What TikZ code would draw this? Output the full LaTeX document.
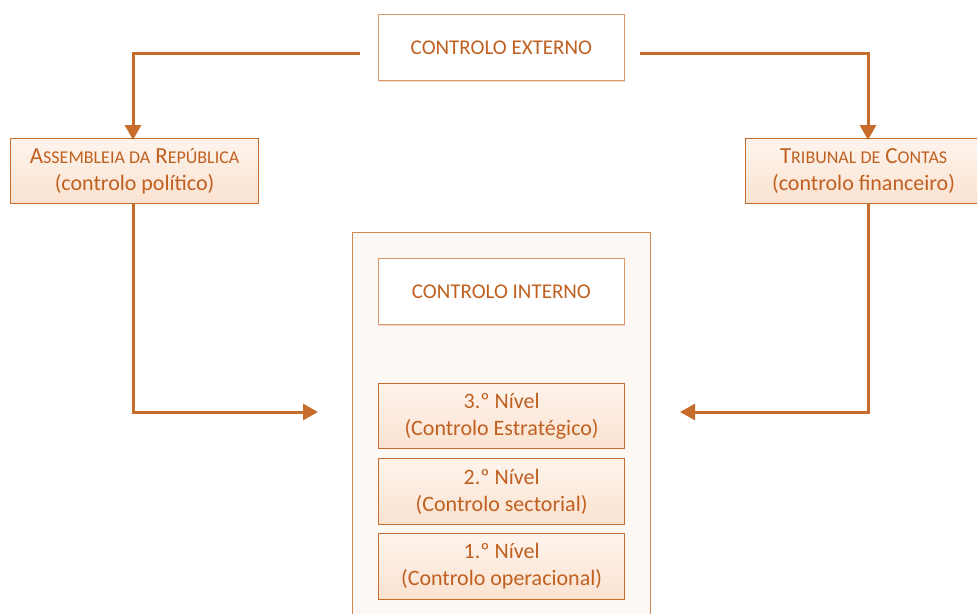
\documentclass[tikz,border=0pt]{standalone}
\usepackage{fontspec}
\setmainfont{Carlito}
\usetikzlibrary{arrows.meta,shadows}
\definecolor{txt}{RGB}{192,96,32}
\definecolor{ln}{RGB}{200,108,44}
\definecolor{peachtop}{RGB}{254,244,237}
\definecolor{peachbot}{RGB}{250,226,208}
\definecolor{cont}{RGB}{254,248,244}
\newcommand{\fsc}[2]{{\fontsize{23}{27}\selectfont #1}{\fontsize{18}{27}\selectfont #2}}
\tikzset{
  whitebox/.style={draw=ln!70, line width=0.8pt, fill=white, text=txt, minimum width=246pt, minimum height=66pt, anchor=north west, font=\fontsize{21}{26}\selectfont, drop shadow={shadow xshift=1pt,shadow yshift=-2pt,opacity=0.25,fill=ln}},
  peachbox/.style={draw=ln, line width=1.2pt, top color=peachtop, bottom color=peachbot, text=txt, anchor=north west, align=center, font=\fontsize{22}{27}\selectfont, inner sep=0pt},
  conn/.style={draw=ln, line width=3pt, -{Triangle[length=15pt,width=16pt]}},
}
\begin{document}
\begin{tikzpicture}[x=1pt,y=-1pt]
\useasboundingbox (0,0) rectangle (977,613);
\begin{scope}
\clip (0,0) rectangle (977,613);
% container
\node[draw=ln!80, line width=1pt, fill=cont, minimum width=298pt, minimum height=400pt, anchor=north west, inner sep=0pt] (box) at (352,232) {};
% top boxes
\node[whitebox] (ext) at (378,14) {CONTROLO EXTERNO};
\node[whitebox] (int) at (378,258) {CONTROLO INTERNO};
% side boxes
\node[peachbox, minimum width=248pt, minimum height=65pt] (ar) at (10,138) {\fsc{A}{SSEMBLEIA DA} \fsc{R}{EPÚBLICA}\\(controlo político)};
\node[peachbox, minimum width=236pt, minimum height=65pt] (tc) at (745,138) {\fsc{T}{RIBUNAL DE} \fsc{C}{ONTAS}\\(controlo financeiro)};
% levels
\node[peachbox, minimum width=246pt, minimum height=65pt] (n3) at (378,383) {3.º Nível\\(Controlo Estratégico)};
\node[peachbox, minimum width=246pt, minimum height=66pt] (n2) at (378,458) {2.º Nível\\(Controlo sectorial)};
\node[peachbox, minimum width=246pt, minimum height=66pt] (n1) at (378,533) {1.º Nível\\(Controlo operacional)};
% connectors
\coordinate (el) at (360,53);
\coordinate (er) at (640,53);
\coordinate (lt) at (318,412);
\coordinate (rt) at (680,412);
\draw[conn] (el) -| ([yshift=-2pt]ar.north -| 133,0);
\draw[conn] (er) -| ([yshift=-2pt]tc.north -| 868,0);
\draw[conn] (ar.south -| 133,0) |- (lt);
\draw[conn] (tc.south -| 868,0) |- (rt);
\end{scope}
\end{tikzpicture}
\end{document}
